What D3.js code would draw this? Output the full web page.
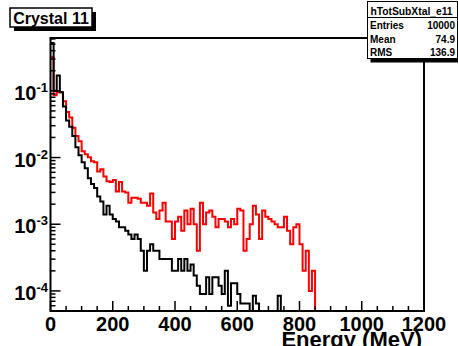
<!DOCTYPE html>
<html>
<head>
<meta charset="utf-8">
<script src="https://cdn.jsdelivr.net/npm/d3@7"></script>
<style>
  html, body { margin: 0; padding: 0; background: #fff; }
  svg { display: block; font-family: "Liberation Sans", Arial, Helvetica, sans-serif; font-weight: bold; }
</style>
</head>
<body>
<div id="chart"></div>
<script>
/* Crystal 11 — energy spectra, log y, 10 MeV bins */

var binWidth = 10; // MeV

// red histogram, bins from 0 MeV
var redVals = [
  0.32, 0.086, 0.095, 0.095, 0.070, 0.048, 0.040, 0.028, 0.021, 0.0175,
  0.0124, 0.0112, 0.0101, 0.0088, 0.0085, 0.0062, 0.0067, 0.0052, 0.0044, 0.0043,
  0.0046, 0.0031, 0.0043, 0.0031, 0.0030, 0.0021, 0.0025, 0.0025, 0.0024, 0.0021,
  0.0021, 0.0019, 0.0029, 0.0015, 0.0012, 0.0016, 0.0021, 0.0011, 0.0011, 0.0006,
  0.0011, 0.0013, 0.0008, 0.0016, 0.0010, 0.0017, 0.0010, 0.0004, 0.0021, 0.0010,
  0.0015, 0.0016, 0.0013, 0.0009, 0.0012, 0.0012, 0.0011, 0.0009, 0.0012, 0.0010,
  0.0017, 0.0016, 0.0004, 0.0006, 0.0010, 0.0019, 0.0014, 0.0006, 0.0016, 0.0013,
  0.0012, 0.0011, 0.0010, 0.0009, 0.0009, 0.0013, 0.0008, 0.0005, 0.0009, 0.0010,
  0.0005, 0.0002, 0.0004, 0.0001, 0.0002
];

// black histogram (hTotSubXtal_e11)
var blackVals = [
  0.52, 0.10, 0.17, 0.095, 0.058, 0.036, 0.029, 0.021, 0.0143, 0.0108,
  0.0085, 0.0069, 0.0049, 0.0040, 0.0035, 0.0026, 0.0022, 0.0014, 0.0019, 0.0014,
  0.0012, 0.0011, 0.0009, 0.0009, 0.0008, 0.0007, 0.0006, 0.0007, 0.0006, 0.0004,
  0.0002, 0.0004, 0.0005, 0.0004, 0.0004, 0.0003, 0.0003, 0.0003, 0.0003, 0.0002,
  0.0002, 0.0003, 0.0002, 0.0003, 0.0002, 0.00025, 0.00017, 0.00012, 0.00009, 0.00009,
  0.00016, 0.00009, 0.00016, 0.00016, 0.00012, 0.00009, 0.0002, 0.00006, 0.00013, 0.00013,
  0.00009, 0.000065, 0.000065, 0.000065, 0, 0.000085, 0.000065, 0, 0, 0,
  0, 0, 0, 0.000085
];

var xTicks = [0, 200, 400, 600, 800, 1000, 1200];
var yExps = [-1, -2, -3, -4];
var statsTitle = "hTotSubXtal_e11";
var statsRows = [["Entries", "10000"], ["Mean", "74.9"], ["RMS", "136.9"]];

(function () {
  "use strict";

  var W = 458, H = 346;
  var fr = { l: 50.5, r: 424, t: 38, b: 311 };
  var yMin = 5e-5, yMax = 0.62;

  var svg = d3.select("#chart").append("svg").attr("width", W).attr("height", H);
  svg.append("rect").attr("width", W).attr("height", H).attr("fill", "#fff");

  var x = d3.scaleLinear().domain([0, 1200]).range([fr.l, fr.r]);
  var y = d3.scaleLog().domain([yMin, yMax]).range([fr.b, fr.t]).clamp(true);

  svg.append("clipPath").attr("id", "frameClip")
    .append("rect").attr("x", fr.l).attr("y", fr.t - 1)
    .attr("width", fr.r - fr.l).attr("height", fr.b - fr.t + 1);

  // step outline, zero bins sit on the frame bottom
  function steps(vals) {
    var pts = [];
    vals.forEach(function (v, i) {
      pts.push([i * binWidth, v]);
      pts.push([(i + 1) * binWidth, v]);
    });
    pts.push([vals.length * binWidth, 0]);
    return pts;
  }
  var line = d3.line()
    .x(function (d) { return x(d[0]); })
    .y(function (d) { return d[1] > 0 ? y(d[1]) : fr.b + 2; });

  var plot = svg.append("g").attr("clip-path", "url(#frameClip)");
  plot.append("path").datum(steps(redVals))
    .attr("fill", "none").attr("stroke", "#ff0000").attr("stroke-width", 2)
    .attr("d", line);
  plot.append("path").datum(steps(blackVals))
    .attr("fill", "none").attr("stroke", "#000").attr("stroke-width", 2)
    .attr("d", line);

  // frame
  svg.append("rect").attr("x", fr.l).attr("y", fr.t)
    .attr("width", fr.r - fr.l).attr("height", fr.b - fr.t)
    .attr("fill", "none").attr("stroke", "#000").attr("stroke-width", 2);

  // x ticks (inside, every 50 MeV)
  var ax = svg.append("g").attr("stroke", "#000").attr("stroke-width", 1.5);
  d3.range(0, 1201, 50).forEach(function (e) {
    var major = e % 200 === 0;
    ax.append("line").attr("x1", x(e)).attr("x2", x(e))
      .attr("y1", fr.b).attr("y2", fr.b - (major ? 10 : 5));
  });
  // y ticks, log minor
  var yt = [];
  for (var p = -5; p <= 0; p++) {
    for (var m = 1; m <= 9; m++) {
      var v = m * Math.pow(10, p);
      if (v >= yMin * 0.999 && v <= yMax) yt.push({ v: v, major: m === 1 });
    }
  }
  yt.forEach(function (t) {
    ax.append("line").attr("x1", fr.l).attr("x2", fr.l + (t.major ? 10 : 5))
      .attr("y1", y(t.v)).attr("y2", y(t.v));
  });

  // x labels
  svg.append("g").selectAll("text").data(xTicks).enter().append("text")
    .attr("x", function (d) { return x(d); }).attr("y", 331)
    .attr("text-anchor", "middle").attr("font-size", 20)
    .text(function (d) { return d; });

  // y labels 10^n
  yExps.forEach(function (n) {
    var t = svg.append("text").attr("x", 48).attr("y", y(Math.pow(10, n)) + 9)
      .attr("text-anchor", "end").attr("font-size", 20);
    t.append("tspan").text("10");
    t.append("tspan").attr("font-size", 13).attr("dy", -8).text(String(n));
  });

  svg.append("text").attr("x", 422).attr("y", 347)
    .attr("text-anchor", "end").attr("font-size", 22)
    .text("Energy (MeV)");

  // title pave
  var tb = { x: 10, y: 8, w: 82, h: 19 };
  svg.append("rect").attr("x", tb.x + 4).attr("y", tb.y + 4).attr("width", tb.w).attr("height", tb.h).attr("fill", "#000");
  svg.append("rect").attr("x", tb.x).attr("y", tb.y).attr("width", tb.w).attr("height", tb.h)
    .attr("fill", "#fff").attr("stroke", "#000").attr("stroke-width", 1.5);
  svg.append("text").attr("x", tb.x + tb.w / 2).attr("y", tb.y + 15.5)
    .attr("text-anchor", "middle").attr("font-size", 16).text("Crystal 11");

  // stats box
  var sb = { x: 367.5, y: 1.5, w: 90, h: 57 };
  svg.append("rect").attr("x", sb.x + 3).attr("y", sb.y + 4).attr("width", sb.w).attr("height", sb.h).attr("fill", "#000");
  svg.append("rect").attr("x", sb.x).attr("y", sb.y).attr("width", sb.w).attr("height", sb.h)
    .attr("fill", "#fff").attr("stroke", "#000").attr("stroke-width", 1);
  svg.append("line").attr("x1", sb.x).attr("x2", sb.x + sb.w).attr("y1", 17.5).attr("y2", 17.5)
    .attr("stroke", "#000").attr("stroke-width", 1);
  svg.append("text").attr("x", sb.x + sb.w / 2 - 1).attr("y", 15)
    .attr("text-anchor", "middle").attr("font-size", 10.3).text(statsTitle);
  statsRows.forEach(function (r, i) {
    var by = 29 + i * 13.5;
    svg.append("text").attr("x", 370).attr("y", by).attr("font-size", 10).text(r[0]);
    svg.append("text").attr("x", 455).attr("y", by).attr("text-anchor", "end").attr("font-size", 10).text(r[1]);
  });
})();
</script>
</body>
</html>
